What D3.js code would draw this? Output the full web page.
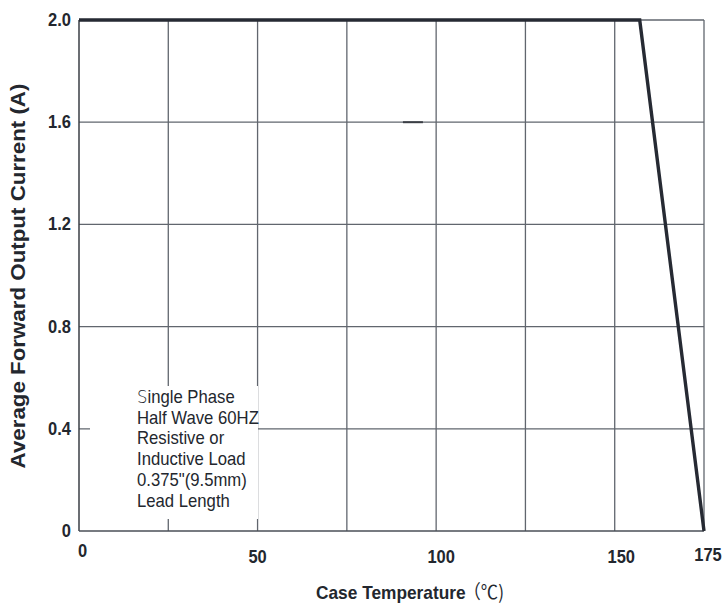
<!DOCTYPE html>
<html>
<head>
<meta charset="utf-8">
<script src="https://cdn.jsdelivr.net/npm/d3@7/dist/d3.min.js"></script>
<style>
  html, body { margin: 0; padding: 0; background: #fff; }
  svg { display: block; }
  text { font-family: "Liberation Sans", Arial, sans-serif; fill: #23272e; }
</style>
</head>
<body>
<svg id="chart" width="723" height="606"></svg>
<script>
// ---- data ----
const caseTemp = [0, 157, 175];          // °C
const outputCurrent = [2.0, 2.0, 0];     // A
const xTickValues = [0, 50, 100, 150, 175];
const xGridValues = [25, 50, 75, 100, 125, 150];
const yTickValues = [0, 0.4, 0.8, 1.2, 1.6, 2.0];
const yTickLabels = ["0", "0.4", "0.8", "1.2", "1.6", "2.0"];
const yGridValues = [0.4, 0.8, 1.2, 1.6];
const noteLines = ["Single Phase", "Half Wave 60HZ", "Resistive or", "Inductive Load", "0.375\"(9.5mm)", "Lead Length"];
const xTitle = "Case Temperature";
const xUnit = "（℃)";
const yTitle = "Average Forward Output Current (A)";

// ---- layout ----
const pL = 79, pR = 704, pT = 20, pB = 531;
const svg = d3.select("#chart");
const x = d3.scaleLinear().domain([0, 175]).range([pL, pR]);
const y = d3.scaleLinear().domain([0, 2]).range([pB, pT]);
const gridColor = "#61666e";
const vs = 1.1; // vertical stretch of glyphs

// grid
svg.append("g").selectAll("line").data(xGridValues).join("line")
  .attr("x1", d => x(d)).attr("x2", d => x(d))
  .attr("y1", pT).attr("y2", pB)
  .attr("stroke", gridColor).attr("stroke-width", 1.3);
svg.append("g").selectAll("line").data(yGridValues).join("line")
  .attr("x1", pL).attr("x2", pR)
  .attr("y1", d => y(d)).attr("y2", d => y(d))
  .attr("stroke", gridColor).attr("stroke-width", 1.3);

// small dark dash on the 1.6 grid line
svg.append("line")
  .attr("x1", x(90.7)).attr("x2", x(96.3))
  .attr("y1", y(1.6)).attr("y2", y(1.6))
  .attr("stroke", "#3a3e45").attr("stroke-width", 2);

// frame
svg.append("line").attr("x1", pR).attr("x2", pR).attr("y1", pT).attr("y2", pB)
  .attr("stroke", gridColor).attr("stroke-width", 1.3);
svg.append("line").attr("x1", pL).attr("x2", pR).attr("y1", pT).attr("y2", pT)
  .attr("stroke", gridColor).attr("stroke-width", 1.3);
svg.append("line").attr("x1", pL).attr("x2", pL).attr("y1", pT).attr("y2", pB)
  .attr("stroke", "#3a3e45").attr("stroke-width", 1.5);
svg.append("line").attr("x1", pL).attr("x2", pR).attr("y1", pB).attr("y2", pB)
  .attr("stroke", "#4a4f57").attr("stroke-width", 1.5);

// annotation box (white, covers grid)
svg.append("rect")
  .attr("x", 90).attr("y", 386)
  .attr("width", 168).attr("height", 133)
  .attr("fill", "#fff");

const note = svg.append("g");
noteLines.forEach((t, i) => {
  const tx = note.append("text")
    .attr("transform", `translate(137,${403 + i * 20.7}) scale(1,${vs})`)
    .attr("font-size", 16.7)
    .attr("fill", "#2a2e35");
  if (i === 0) {
    tx.append("tspan").text(t[0]).attr("font-family", "DejaVu Sans").attr("font-weight", 200).attr("font-size", 16.5);
    tx.append("tspan").text(t.slice(1));
  } else {
    tx.text(t);
  }
});

// data line
const line = d3.line().x((d, i) => x(caseTemp[i])).y((d, i) => y(outputCurrent[i]));
svg.append("path")
  .datum(caseTemp)
  .attr("d", line)
  .attr("fill", "none")
  .attr("stroke", "#262a33")
  .attr("stroke-width", 3.4)
  .attr("stroke-linejoin", "miter");

// y tick labels
svg.append("g").selectAll("text").data(yTickValues).join("text")
  .attr("transform", d => `translate(71,${y(d) + 6}) scale(1,${vs})`)
  .attr("text-anchor", "end")
  .attr("font-size", 16.5)
  .attr("font-weight", "bold")
  .text((d, i) => yTickLabels[i]);

// x tick labels
const xOff = {0: [3.5, -6], 50: [0, 0], 100: [5, 0], 150: [6.5, 0], 175: [4, -2]};
svg.append("g").selectAll("text").data(xTickValues).join("text")
  .attr("transform", d => `translate(${x(d) + xOff[d][0]},${563 + xOff[d][1]}) scale(1,${vs})`)
  .attr("text-anchor", "middle")
  .attr("font-size", 16.5)
  .attr("font-weight", "bold")
  .text(d => d);

// x title
const xt = svg.append("text")
  .attr("transform", `translate(316,599) scale(1,${vs})`)
  .attr("font-size", 17.3)
  .attr("font-weight", "bold");
xt.append("tspan").text(xTitle);
xt.append("tspan").text(xUnit).attr("font-weight", "normal").attr("font-family", "Noto Sans CJK SC").attr("font-size", 17.3).attr("dx", -2);

// y title
svg.append("text")
  .attr("transform", `translate(25,${276}) rotate(-90) scale(${vs},1)`)
  .attr("text-anchor", "middle")
  .attr("font-size", 20.3)
  .attr("font-weight", "bold")
  .text(yTitle);
</script>
</body>
</html>
